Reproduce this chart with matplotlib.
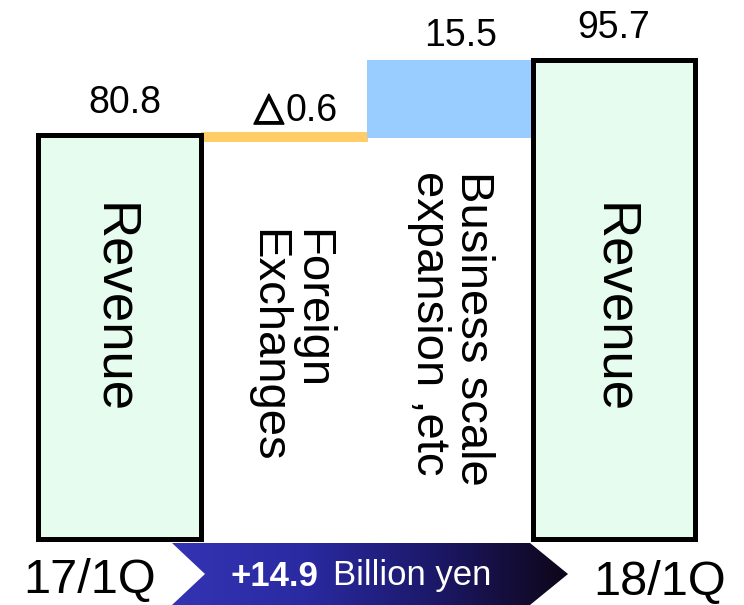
import matplotlib
matplotlib.use('Agg')
import matplotlib.pyplot as plt
import matplotlib.patheffects as pe
from matplotlib.patches import Polygon
from matplotlib.colors import LinearSegmentedColormap
import numpy as np

plt.rcParams['font.family'] = ['Liberation Sans', 'DejaVu Sans']

# Waterfall data (billion yen)
periods = ['17/1Q', '18/1Q']
revenue = [80.8, 95.7]
factors = ['Foreign\nExchanges', 'Business scale\nexpansion ,etc']
changes = [-0.6, 15.5]
change_labels = ['\u25b30.6', '15.5']
total_label = '+14.9'

fig = plt.figure(figsize=(7.44, 6.05), dpi=100)
ax = fig.add_axes([0, 0, 1, 1])
ax.set_xlim(-0.7256, 3.792)
ax.set_ylim(-13.2, 107.7)
ax.axis('off')

green = '#e6fcef'
orange = '#ffcc66'
blue = '#99ccff'

# Start and end revenue bars
ax.bar([0, 3], revenue, width=0.984, color=green, edgecolor='black', linewidth=3.6, zorder=2)

# Change bars floating between the two totals
fx_bottom = revenue[0] + changes[0]
ax.bar(1, -changes[0], bottom=fx_bottom, width=0.97, color=orange,
       edgecolor=orange, linewidth=5, zorder=1)
ax.bar(2, changes[1], bottom=fx_bottom, width=1.0, color=blue, zorder=1)

# Value labels
lab_kw = dict(textcoords='offset points', ha='center', va='center', fontsize=27)
ax.annotate(f'{revenue[0]}', (0.03, revenue[0]), xytext=(0, 23), **lab_kw)
# the minus marker is drawn heavier than the digits
ax.annotate(change_labels[0][0], (1.0, revenue[0]), xytext=(-11, 19),
            textcoords='offset points', ha='center', va='center', fontsize=28,
            family='DejaVu Sans',
            path_effects=[pe.withStroke(linewidth=1.2, foreground='black')])
ax.annotate(change_labels[0][1:], (1.0, revenue[0]), xytext=(20, 17), **lab_kw)
ax.annotate(change_labels[1], (2.07, fx_bottom + changes[1]), xytext=(0, 17), **lab_kw)
ax.annotate(f'{revenue[1]}', (3.0, revenue[1]), xytext=(0, 23), **lab_kw)

# Vertical captions inside the bars
ax.text(-0.04, 46, 'Revenue', rotation=-90, ha='center', va='center', fontsize=38)
ax.text(3.0, 46, 'Revenue', rotation=-90, ha='center', va='center', fontsize=38)
ax.text(1.03, 38.6, factors[0], rotation=-90, ha='center', va='center',
        multialignment='left', fontsize=34, linespacing=1.0)
ax.text(2.01, 42, factors[1], rotation=-90, ha='center', va='center',
        multialignment='left', fontsize=34, linespacing=1.0)

# Overlay in pixel units for the bottom banner
ov = fig.add_axes([0, 0, 1, 1])
ov.set_xlim(0, 744)
ov.set_ylim(605, 0)
ov.axis('off')
ov.patch.set_alpha(0)

arrow_pts = [(172, 543), (530, 543), (568, 574), (530, 605), (172, 605), (205, 574)]
arrow = Polygon(arrow_pts, closed=True, facecolor='none', edgecolor='none')
ov.add_patch(arrow)
cmap = LinearSegmentedColormap.from_list('band', ['#3434b4', '#2a2aa2', '#1c1868', '#0e0618'])
grad = np.linspace(0, 1, 256).reshape(1, -1)
img = ov.imshow(grad, cmap=cmap, extent=(172, 568, 605, 543), aspect='auto', zorder=3)
img.set_clip_path(arrow)

ov.text(231, 576, total_label, color='white', fontsize=25, fontweight='bold',
        ha='left', va='center', zorder=4)
ov.text(333, 576, 'Billion yen', color='white', fontsize=25,
        ha='left', va='center', zorder=4)

ov.text(90, 580, periods[0], fontsize=35, ha='center', va='center')
ov.text(660, 582, periods[1], fontsize=35, ha='center', va='center')

fig.savefig('out.png', dpi=100)
